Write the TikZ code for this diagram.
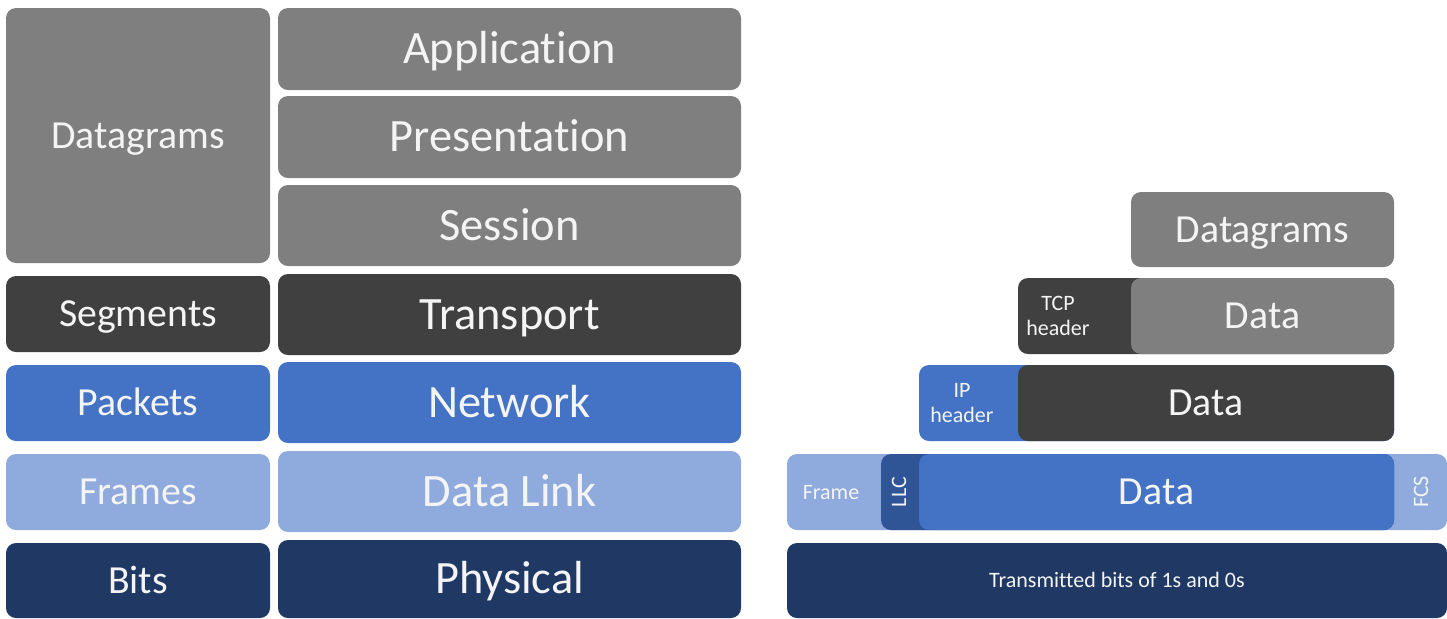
\documentclass[tikz,border=0pt]{standalone}
\usepackage{fontspec}
\setmainfont{Carlito}[Ligatures=NoCommon]
\definecolor{cgray}{HTML}{7F7F7F}
\definecolor{cdark}{HTML}{404040}
\definecolor{cblue}{HTML}{4472C4}
\definecolor{clight}{HTML}{8FAADC}
\definecolor{cnavy}{HTML}{1F3864}
\definecolor{cllc}{HTML}{2F5597}
\definecolor{ctext}{HTML}{F4F4F4}
\begin{document}
\begin{tikzpicture}[x=0.5pt,y=-0.5pt,
  blk/.style={rounded corners=5pt, inner sep=0pt, draw=none, text=ctext},
  lbl/.style={text=ctext, inner sep=0pt},
  layerfont/.style={font=\fontsize{23.2}{27}\selectfont, text height=14.9pt, text depth=0pt},
  unitfont/.style={font=\fontsize{19.9}{23}\selectfont, text height=12.8pt, text depth=0pt},
  smallfont/.style={font=\fontsize{11}{12.5}\selectfont, align=center},
  smallone/.style={smallfont, text height=7.1pt, text depth=0pt}]
\useasboundingbox (0,0) rectangle (1447,618);
% left column: PDU names
\node[blk, unitfont, fill=cgray, minimum width=132pt, minimum height=127.5pt] (ldg) at (138,135.5) {Datagrams};
\node[blk, unitfont, fill=cdark, minimum width=132pt, minimum height=38pt] (lseg) at (138,314) {Segments};
\node[blk, unitfont, fill=cblue, minimum width=132pt, minimum height=38pt] (lpkt) at (138,403) {Packets};
\node[blk, unitfont, fill=clight, minimum width=132pt, minimum height=38pt] (lfrm) at (138,492) {Frames};
\node[blk, unitfont, fill=cnavy, minimum width=132pt, minimum height=37.5pt] (lbit) at (138,580.5) {Bits};
% OSI layers
\node[blk, layerfont, fill=cgray, minimum width=231.5pt, minimum height=41pt] (app) at (509.5,49) {Application};
\node[blk, layerfont, fill=cgray, minimum width=231.5pt, minimum height=41pt] (pres) at (509.5,137) {Presentation};
\node[blk, layerfont, fill=cgray, minimum width=231.5pt, minimum height=40.5pt] (sess) at (509.5,225.5) {Session};
\node[blk, layerfont, fill=cdark, minimum width=231.5pt, minimum height=40.5pt] (trans) at (509.5,314.5) {Transport};
\node[blk, layerfont, fill=cblue, minimum width=231.5pt, minimum height=40.5pt] (net) at (509.5,402.5) {Network};
\node[blk, layerfont, fill=clight, minimum width=231.5pt, minimum height=40.5pt] (dl) at (509.5,491.5) {Data Link};
\node[blk, layerfont, fill=cnavy, minimum width=231.5pt, minimum height=39pt] (phy) at (509.5,579) {Physical};
% encapsulation
\node[blk, unitfont, fill=cgray, minimum width=131.5pt, minimum height=37.5pt] (rdg) at (1262.5,229.5) {Datagrams};
\node[blk, fill=cdark, minimum width=188pt, minimum height=38pt] (tcpbox) at (1206,316) {};
\node[blk, unitfont, fill=cgray, minimum width=131.5pt, minimum height=38pt] (tcpdata) at (1262.5,316) {Data};
\node[lbl, smallfont] (tcph) at (1058,316) {TCP\\header};
\node[blk, fill=cblue, minimum width=237.5pt, minimum height=38pt] (ipbox) at (1156.5,403) {};
\node[blk, unitfont, fill=cdark, minimum width=188pt, minimum height=38pt] (ipdata) at (1206,403) {Data};
\node[lbl, smallfont] (iph) at (962,403) {IP\\header};
\node[blk, fill=clight, minimum width=330pt, minimum height=38pt] (frmbox) at (1117,492) {};
\node[blk, fill=cllc, minimum width=256.5pt, minimum height=38pt] (llcbox) at (1137.5,492) {};
\node[blk, unitfont, fill=cblue, minimum width=237.5pt, minimum height=38pt] (frmdata) at (1156.5,492) {Data};
\node[lbl, smallone] (frml) at (831,492) {Frame};
\node[lbl, smallone, rotate=90] (llcl) at (899,492) {LLC};
\node[lbl, smallone, rotate=90] (fcsl) at (1421,492) {FCS};
\node[blk, smallone, fill=cnavy, minimum width=330pt, minimum height=37.5pt] (bits) at (1117,580.5) {Transmitted bits of 1s and 0s};
\end{tikzpicture}
\end{document}
